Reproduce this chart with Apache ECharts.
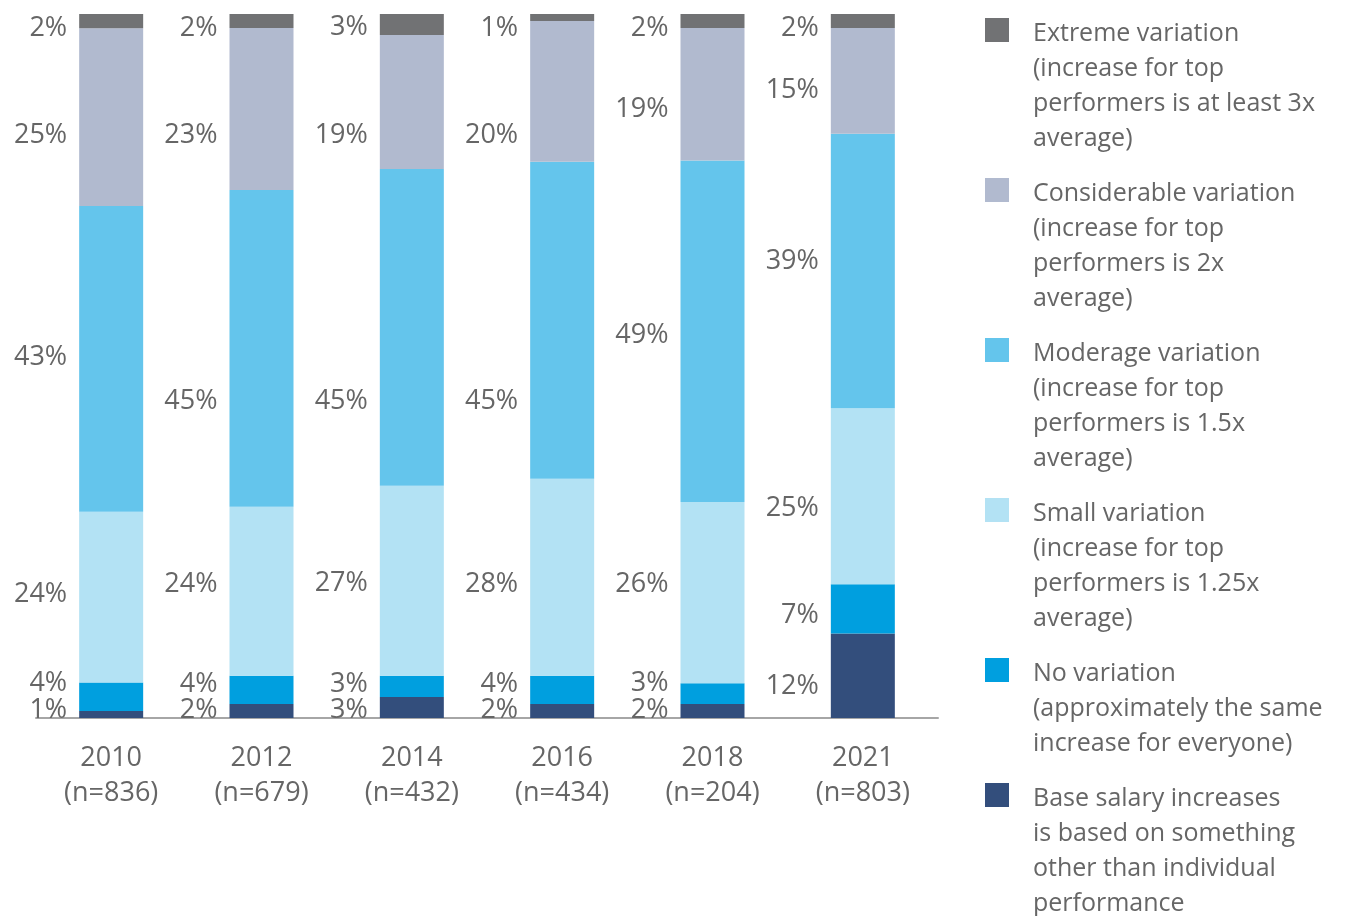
<!DOCTYPE html>
<html>
<head>
<meta charset="utf-8">
<title>Variation in base salary increases</title>
<script src="https://cdn.jsdelivr.net/npm/echarts@6/dist/echarts.min.js"></script>
<style>
  html, body { margin: 0; padding: 0; background: #ffffff; }
  #chart { width: 1365px; height: 916px; }
</style>
</head>
<body>
<div id="chart"></div>
<script>
// Survey years and sample sizes
const years = ['2010', '2012', '2014', '2016', '2018', '2021'];
const sampleSizes = ['n=836', 'n=679', 'n=432', 'n=434', 'n=204', 'n=803'];

// Share of respondents per answer (%), one array per answer
const baseOther    = [1, 2, 3, 2, 2, 12];
const noVariation  = [4, 4, 3, 4, 3, 7];
const smallVar     = [24, 24, 27, 28, 26, 25];
const moderateVar  = [43, 45, 45, 45, 49, 39];
const considerable = [25, 23, 19, 20, 19, 15];
const extremeVar   = [2, 2, 3, 1, 2, 2];

// Series, bottom of the stack first
const seriesDefs = [
  { name: 'Base salary',  values: baseOther,    color: '#334e7c',
    legend: 'Base salary increases\nis based on something\nother than individual\nperformance' },
  { name: 'No variation', values: noVariation,  color: '#009fdf',
    legend: 'No variation\n(approximately the same\nincrease for everyone)' },
  { name: 'Small',        values: smallVar,     color: '#b3e2f4',
    legend: 'Small variation\n(increase for top\nperformers is 1.25x\naverage)' },
  { name: 'Moderage',     values: moderateVar,  color: '#64c5ec',
    legend: 'Moderage variation\n(increase for top\nperformers is 1.5x\naverage)' },
  { name: 'Considerable', values: considerable, color: '#b1bacf',
    legend: 'Considerable variation\n(increase for top\nperformers is 2x\naverage)' },
  { name: 'Extreme',      values: extremeVar,   color: '#717274',
    legend: 'Extreme variation\n(increase for top\nperformers is at least 3x\naverage)' }
];

// Vertical nudges (px) for the value labels, same order as seriesDefs
const labelNudge = [
  [-6, -3, 1, -3, -3, 9],
  [-15, -8, -4, -8, -12, 4],
  [-5, -9, 1, 5, -10, 10],
  [-4, 51, 72, 79, 2, -12],
  [16, 24, 31, 42, 13, 7],
  [5, 5, 1, 9, 5, 5]
];
const LABEL_BASELINE_SHIFT = 2;

const FONT = '"Open Sans", "Noto Sans", sans-serif';
const TEXT = '#666666';
const LINE_H = 34.7;

// Legend layout: top of each entry, text indent and swatch size
const LEGEND_LEFT = 985;
const LEGEND_TOPS = [17, 177, 337, 497, 657, 782];
const SWATCH = 24;
const SWATCH_TOP = 1;
const TEXT_INDENT = 43;

// Each column is drawn as a 100% stack
const totals = years.map((_, i) => seriesDefs.reduce((s, d) => s + d.values[i], 0));

const series = seriesDefs.map((d, si) => ({
  name: d.name,
  type: 'bar',
  stack: 'all',
  barWidth: 64,
  itemStyle: { color: d.color },
  label: {
    show: true,
    position: 'left',
    distance: 12,
    color: TEXT,
    fontFamily: FONT,
    fontSize: 27,
    formatter: p => d.values[p.dataIndex] + '%'
  },
  data: d.values.map((v, i) => ({
    value: v / totals[i] * 100,
    label: { offset: [0, labelNudge[si][i] + LABEL_BASELINE_SHIFT] }
  }))
}));

// Swatch at the top of a box as tall as the text block, so the
// multi-line caption hangs down from the first line beside the square
function swatchIcon(h) {
  const w = TEXT_INDENT;
  return 'path://M0,' + SWATCH_TOP + 'H' + SWATCH + 'V' + (SWATCH_TOP + SWATCH) + 'H0Z' +
         'M0,0H' + w + 'V0.01H0Z' +
         'M0,' + (h - 0.01) + 'H' + w + 'V' + h + 'H0Z';
}

const legends = seriesDefs.slice().reverse().map((d, k) => {
  const lines = d.legend.split('\n').length;
  const h = lines * LINE_H;
  return {
    orient: 'vertical',
    left: LEGEND_LEFT,
    top: LEGEND_TOPS[k],
    padding: 0,
    itemWidth: TEXT_INDENT,
    itemHeight: h,
    selectedMode: false,
    textStyle: {
      color: TEXT,
      fontFamily: FONT,
      fontSize: 25,
      lineHeight: LINE_H
    },
    formatter: () => d.legend,
    data: [{ name: d.name, icon: swatchIcon(h) }]
  };
});

const chart = echarts.init(document.getElementById('chart'), null, { renderer: 'canvas' });
chart.setOption({
  animation: false,
  backgroundColor: '#ffffff',
  grid: { left: 36, right: 427, top: 14, bottom: 198, containLabel: false },
  xAxis: {
    type: 'category',
    data: years,
    axisLine: { show: true, lineStyle: { color: '#a6a6a6', width: 2 } },
    axisTick: { show: false },
    axisLabel: {
      margin: 23,
      color: TEXT,
      fontFamily: FONT,
      fontSize: 27,
      lineHeight: 35,
      formatter: (v, i) => v + '\n(' + sampleSizes[i] + ')'
    }
  },
  yAxis: {
    type: 'value',
    min: 0,
    max: 100,
    show: false,
    splitLine: { show: false }
  },
  legend: legends,
  series: series
});
</script>
</body>
</html>
